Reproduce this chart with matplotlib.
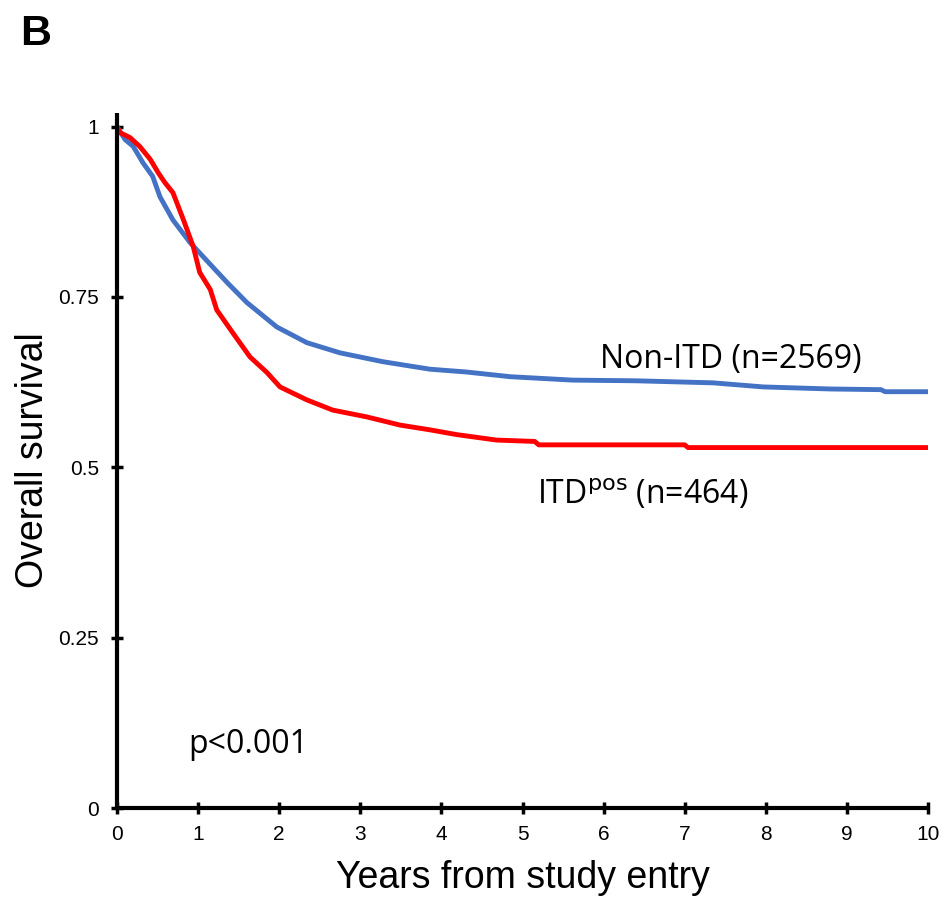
import matplotlib
matplotlib.use("Agg")
import matplotlib.pyplot as plt

# Survival curves (years, survival)
non_itd_t = [0, 0.1, 0.2, 0.32, 0.44, 0.53, 0.69, 0.9, 1.18, 1.36, 1.6, 1.97, 2.34,
             2.75, 3.28, 3.86, 4.3, 4.85, 5.62, 6.4, 7.35, 7.97, 8.79, 9.42, 9.47, 10]
non_itd_s = [1.0, 0.981, 0.971, 0.947, 0.927, 0.897, 0.863, 0.830, 0.794, 0.771, 0.742,
             0.706, 0.683, 0.668, 0.655, 0.644, 0.640, 0.633, 0.628, 0.627, 0.624,
             0.618, 0.615, 0.614, 0.611, 0.611]

itd_t = [0, 0.04, 0.16, 0.28, 0.41, 0.51, 0.59, 0.69, 0.82, 0.94, 1.02, 1.15, 1.23,
         1.43, 1.64, 1.85, 2.01, 2.34, 2.66, 3.08, 3.49, 3.86, 4.19, 4.68, 5.15, 5.2,
         7.0, 7.04, 10]
itd_s = [1.0, 0.991, 0.984, 0.971, 0.952, 0.932, 0.918, 0.903, 0.863, 0.824, 0.786,
         0.761, 0.731, 0.697, 0.662, 0.639, 0.618, 0.599, 0.584, 0.574, 0.562, 0.555,
         0.548, 0.540, 0.538, 0.533, 0.533, 0.529, 0.529]

xticks = list(range(0, 11))
yticks = [0, 0.25, 0.5, 0.75, 1]
ytick_labels = ["0", "0.25", "0.5", "0.75", "1"]

fig = plt.figure(figsize=(9.42, 8.97), dpi=100)
ax = fig.add_axes([0.1242, 0.0992, 0.861, 0.7748])

ax.plot(non_itd_t, non_itd_s, color="#4472C4", lw=3.5, solid_joinstyle="round")
ax.plot(itd_t, itd_s, color="#FF0000", lw=3.5, solid_joinstyle="round")

ax.set_xlim(0, 10)
ax.set_ylim(0, 1.02)

for side in ["top", "right"]:
    ax.spines[side].set_visible(False)
for side in ["left", "bottom"]:
    ax.spines[side].set_linewidth(3)
    ax.spines[side].set_capstyle("butt")

ax.set_xticks(xticks)
ax.set_xticklabels([str(v) for v in xticks])
ax.set_yticks(yticks)
ax.set_yticklabels(ytick_labels)
ax.tick_params(direction="inout", length=8, width=2.5,
               labelfontfamily="Liberation Sans")
ax.tick_params(axis="x", labelsize=15, pad=8)
ax.tick_params(axis="y", labelsize=15, pad=9)

ax.set_xlabel("Years from study entry", family="Liberation Sans", fontsize=27, labelpad=12)
ax.set_ylabel("Overall survival", family="Liberation Sans", fontsize=27, labelpad=5)

ax.text(5.96, 0.658, "Non-ITD (n=2569)", family="Open Sans", fontsize=23, ha="left", va="center")
ax.text(5.18, 0.46, r"ITD$^{\mathrm{pos}}$ (n=464)", family="Open Sans", fontsize=23, ha="left", va="center")
ax.text(0.88, 0.093, "p<0.001", family="Open Sans", fontsize=23, ha="left", va="center")

fig.text(0.021, 0.962, "B", family="Liberation Sans", fontsize=31, fontweight="bold", va="center")

fig.savefig("out.png", dpi=100)
